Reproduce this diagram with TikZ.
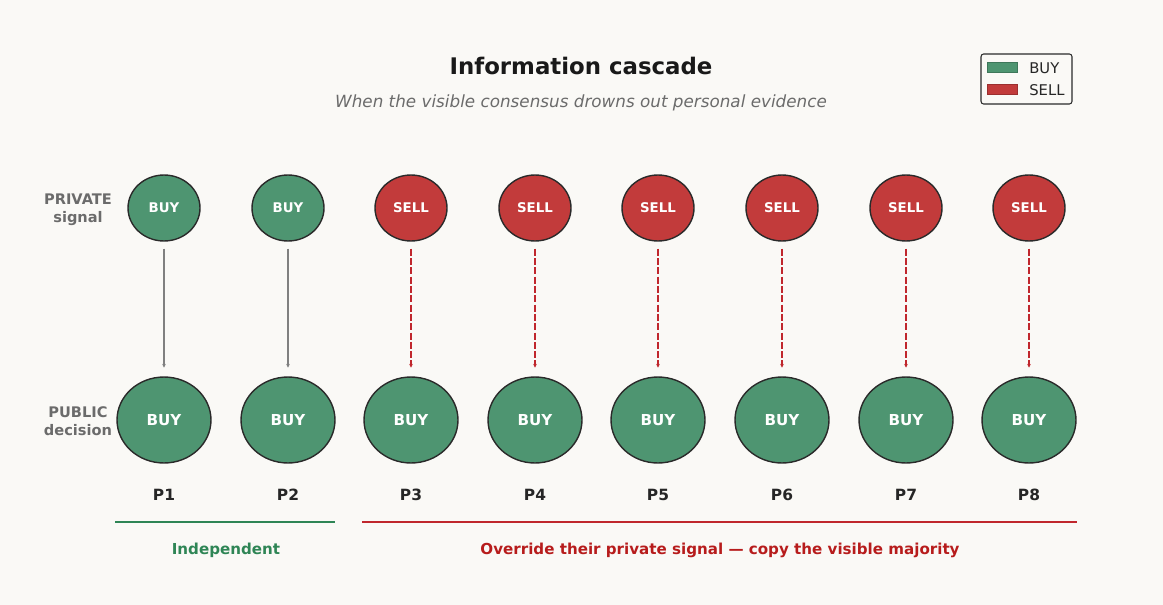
\documentclass[tikz,border=0pt]{standalone}
\usepackage{fontspec}
\setmainfont{DejaVu Sans}
\usetikzlibrary{arrows.meta,shapes.geometric}
\definecolor{bg}{HTML}{FAF9F6}
\definecolor{gbuy}{HTML}{4E9571}
\definecolor{rsell}{HTML}{C23B3B}
\definecolor{rim}{HTML}{2A2A2A}
\definecolor{lbl}{HTML}{6B6B6B}
\definecolor{gline}{HTML}{2E8555}
\definecolor{rline}{HTML}{C0272D}
\definecolor{rtext}{HTML}{B71C1C}
\tikzset{sg/.style={ellipse,draw=rim,line width=0.8pt,minimum width=1.44cm,minimum height=1.32cm,inner sep=0pt,text=white,font=\bfseries\fontsize{7.6}{9}\selectfont}}
\tikzset{dc/.style={ellipse,draw=rim,line width=0.8pt,minimum width=1.88cm,minimum height=1.72cm,inner sep=0pt,fill=gbuy,text=white,font=\bfseries\fontsize{8.6}{10}\selectfont}}
\tikzset{buy/.style={fill=gbuy}}
\tikzset{sell/.style={fill=rsell}}
\tikzset{own/.style={draw=gray,line width=0.8pt,-{Stealth[length=2pt,width=2pt]}}}
\tikzset{cp/.style={draw=rline,line width=0.8pt,dash pattern=on 4pt off 1.3pt,-{Stealth[length=2pt,width=2pt]}}}
\tikzset{pl/.style={font=\bfseries\fontsize{8.8}{10}\selectfont,text=black!85}}
\tikzset{side/.style={align=center,text=lbl,font=\bfseries\fontsize{8.3}{10.2}\selectfont}}

\begin{document}
\begin{tikzpicture}[x=0.02cm,y=-0.02cm]
                \fill[bg] (0,0) rectangle (1163,605);
                \useasboundingbox (0,0) rectangle (1163,605);
                % title
                \node[font=\bfseries\fontsize{13}{15}\selectfont,text=black!90] (title) at (581,66) {Information cascade};
                \node[font=\itshape\fontsize{9.55}{11}\selectfont,text=lbl] (sub) at (581,103) {When the visible consensus drowns out personal evidence};
                % legend
                \node[draw=rim,rounded corners=1.5pt,line width=0.6pt,minimum width=1.82cm,minimum height=1cm] (leg) at (1026.5,79) {};
                \node[fill=gbuy,draw=gbuy!80!black,line width=0.3pt,minimum width=0.6cm,minimum height=0.2cm,inner sep=0pt] (kb) at (1002,67) {};
                \node[fill=rsell,draw=rsell!80!black,line width=0.3pt,minimum width=0.6cm,minimum height=0.2cm,inner sep=0pt] (ks) at (1002,89) {};
                \node[anchor=west,font=\fontsize{8.4}{10}\selectfont,inner sep=0pt,text=black!85] (kbt) at (1029,68) {BUY};
                \node[anchor=west,font=\fontsize{8.4}{10}\selectfont,inner sep=0pt,text=black!85] (kst) at (1029,90) {SELL};
                % row labels
                \node[side] (priv) at (78,210) {PRIVATE\\signal};
                \node[side] (pub) at (78,421) {PUBLIC\\decision};
                % private signals
                \node[sg,buy] (s1) at (164,208) {BUY};
                \node[sg,buy] (s2) at (288,208) {BUY};
                \node[sg,sell] (s3) at (411,208) {SELL};
                \node[sg,sell] (s4) at (535,208) {SELL};
                \node[sg,sell] (s5) at (658,208) {SELL};
                \node[sg,sell] (s6) at (782,208) {SELL};
                \node[sg,sell] (s7) at (906,208) {SELL};
                \node[sg,sell] (s8) at (1029,208) {SELL};
                % public decisions
                \node[dc] (d1) at (164,420) {BUY};
                \node[dc] (d2) at (288,420) {BUY};
                \node[dc] (d3) at (411,420) {BUY};
                \node[dc] (d4) at (535,420) {BUY};
                \node[dc] (d5) at (658,420) {BUY};
                \node[dc] (d6) at (782,420) {BUY};
                \node[dc] (d7) at (906,420) {BUY};
                \node[dc] (d8) at (1029,420) {BUY};
                \path (s1) edge[own,shorten <=4pt,shorten >=5pt] (d1);
                \path (s2) edge[own,shorten <=4pt,shorten >=5pt] (d2);
                \path (s3) edge[cp,shorten <=4pt,shorten >=5pt] (d3);
                \path (s4) edge[cp,shorten <=4pt,shorten >=5pt] (d4);
                \path (s5) edge[cp,shorten <=4pt,shorten >=5pt] (d5);
                \path (s6) edge[cp,shorten <=4pt,shorten >=5pt] (d6);
                \path (s7) edge[cp,shorten <=4pt,shorten >=5pt] (d7);
                \path (s8) edge[cp,shorten <=4pt,shorten >=5pt] (d8);
                % people
                \node[pl] (p1) at (164,495) {P1};
                \node[pl] (p2) at (288,495) {P2};
                \node[pl] (p3) at (411,495) {P3};
                \node[pl] (p4) at (535,495) {P4};
                \node[pl] (p5) at (658,495) {P5};
                \node[pl] (p6) at (782,495) {P6};
                \node[pl] (p7) at (906,495) {P7};
                \node[pl] (p8) at (1029,495) {P8};
                % groups
                \coordinate (ga) at (115,522);
                \coordinate (gb) at (335,522);
                \coordinate (ra) at (362,522);
                \coordinate (rb) at (1077,522);
                \draw[gline,line width=1.1pt] (ga) -- (gb);
                \draw[rline,line width=1.1pt] (ra) -- (rb);
                \node[text=gline,font=\bfseries\fontsize{8.6}{10}\selectfont] (ind) at (226,550) {Independent};
                \node[text=rtext,font=\bfseries\fontsize{8.6}{10}\selectfont] (ovr) at (720,550) {Override their private signal — copy the visible majority};
            \end{tikzpicture}
\end{document}
